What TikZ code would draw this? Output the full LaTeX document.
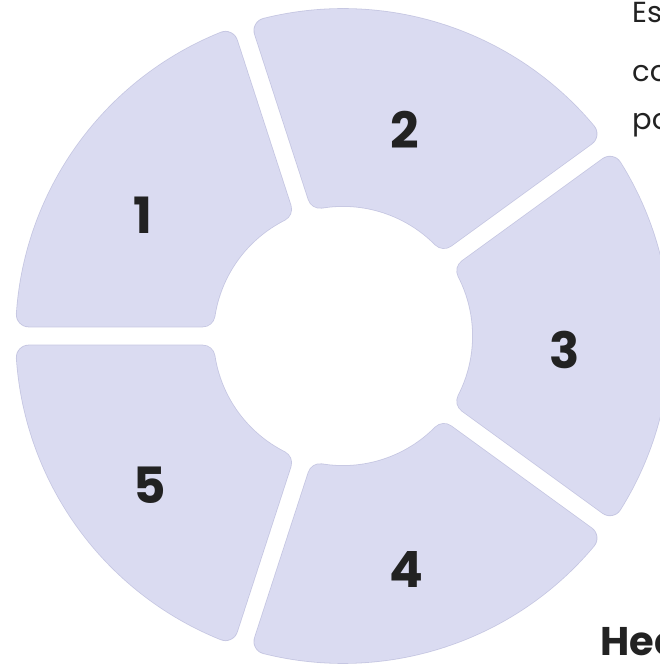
\documentclass[tikz,border=0pt]{standalone}
\usepackage{fontspec}
\setmainfont{Poppins}
\definecolor{segfill}{HTML}{DADBF1}
\definecolor{segline}{HTML}{C6C7E2}
\definecolor{ink}{HTML}{222222}
\tikzset{
  num/.style={text=ink, font=\fontsize{50}{50}\selectfont\bfseries, inner sep=0pt},
  body/.style={text=ink, font=\fontsize{29}{30}\selectfont, inner sep=0pt, anchor=base west},
  head/.style={text=ink, font=\fontsize{40}{40}\selectfont\bfseries, inner sep=0pt, anchor=base west},
  segedge/.style={draw=segline, line width=25.6pt, line join=round},
  segbody/.style={fill=segfill, draw=segfill, line width=24pt, line join=round}
}
\begin{document}
\begin{tikzpicture}[x=1pt,y=1pt]
\useasboundingbox (0,0) rectangle (660,667);
\def\Rout{327}\def\Rin{130}\def\gapw{19}\def\crad{12}
\begin{scope}[shift={(343,331)}]
\foreach \a/\b in {108/180, 36/108, -36/36, -108/-36, 180/252} {
  \pgfmathsetmacro\Ro{\Rout-\crad}
  \pgfmathsetmacro\Ri{\Rin+\crad}
  \pgfmathsetmacro\off{\gapw/2+\crad}
  \pgfmathsetmacro\angO{asin(\off/\Ro)}
  \pgfmathsetmacro\angI{asin(\off/\Ri)}
  \pgfmathsetmacro\sO{\a+\angO}
  \pgfmathsetmacro\eO{\b-\angO}
  \pgfmathsetmacro\sI{\b-\angI}
  \pgfmathsetmacro\eI{\a+\angI}
  \draw[segedge] (\eI:\Ri) -- (\sO:\Ro) arc[start angle=\sO, end angle=\eO, radius=\Ro] -- (\sI:\Ri) arc[start angle=\sI, end angle=\eI, radius=\Ri] -- cycle;
  \draw[segbody] (\eI:\Ri) -- (\sO:\Ro) arc[start angle=\sO, end angle=\eO, radius=\Ro] -- (\sI:\Ri) arc[start angle=\sI, end angle=\eI, radius=\Ri] -- cycle;
}
\end{scope}
\node[num] (n1) at (143,452) {1};
\node[num] (n2) at (405,537) {2};
\node[num] (n3) at (565,317) {3};
\node[num] (n4) at (406,97) {4};
\node[num] (n5) at (150,182) {5};
\node[body] (t1) at (632,644) {Es};
\node[body] (t2) at (632,585) {co};
\node[body] (t3) at (632,537) {po};
\node[head] (t4) at (600,12) {Hec};
\end{tikzpicture}
\end{document}
